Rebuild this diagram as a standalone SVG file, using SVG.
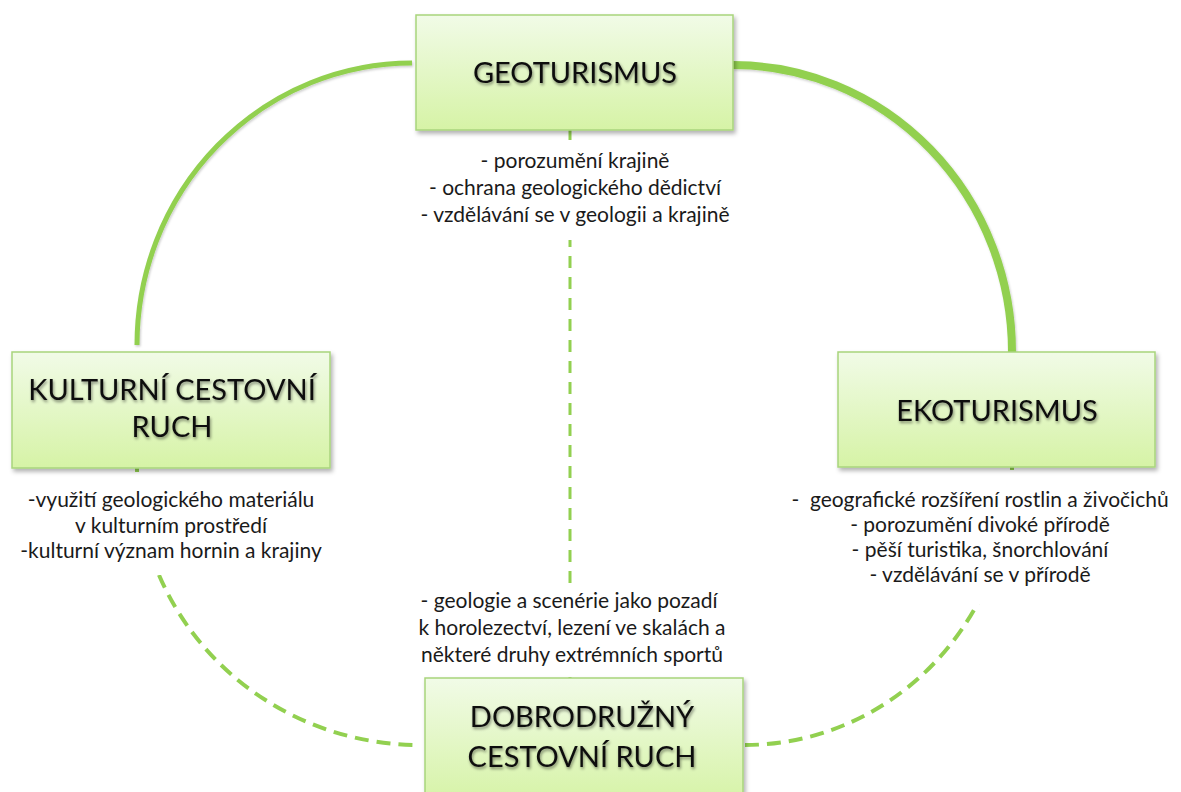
<svg xmlns="http://www.w3.org/2000/svg" width="1181" height="792" viewBox="0 0 1181 792">
<style>
  .box { fill: url(#boxGrad); stroke: #a8d57c; stroke-width: 1.5; filter: url(#boxShadow); }
  .title { font-family: Lato, "Liberation Sans", sans-serif; font-size: 29px; fill: #111; text-anchor: middle; filter: url(#textShadow); }
  .desc { font-family: Lato, "Liberation Sans", sans-serif; font-size: 21px; fill: #1a1a1a; text-anchor: middle; }
  .solid { fill: none; stroke: #92d050; stroke-linecap: butt; filter: url(#lineShadow); }
  .dash { fill: none; stroke: #92d050; stroke-width: 4; stroke-dasharray: 14 8; }
  .vdash { fill: none; stroke: #92d050; stroke-width: 3; stroke-dasharray: 12 9; }
  .mask { fill: #fff; }
</style>
<defs>
  <linearGradient id="boxGrad" x1="0" y1="0" x2="0" y2="1">
    <stop offset="0" stop-color="#f1fbe7"/>
    <stop offset="1" stop-color="#d6f3a6"/>
  </linearGradient>
  <filter id="boxShadow" x="-10%" y="-10%" width="125%" height="130%">
    <feDropShadow dx="2" dy="3" stdDeviation="2" flood-color="#000" flood-opacity="0.3"/>
  </filter>
  <filter id="textShadow" x="-10%" y="-30%" width="120%" height="170%">
    <feDropShadow dx="1" dy="2" stdDeviation="1.5" flood-color="#000" flood-opacity="0.45"/>
  </filter>
  <filter id="lineShadow" x="-10%" y="-10%" width="120%" height="120%">
    <feDropShadow dx="1" dy="1.5" stdDeviation="1.2" flood-color="#000" flood-opacity="0.2"/>
  </filter>
</defs>
<rect width="1181" height="792" fill="#fff"/>

<g id="connectors">
  <path class="solid" stroke-width="5" d="M412,63 A275,282 0 0 0 137,345"/>
  <path class="solid" stroke-width="8" d="M733,65 A279,287 0 0 1 1012,352"/>
  <path class="dash" d="M137,468 A283,277 0 0 0 420,745"/>
  <path class="dash" d="M745,745 A267,278 0 0 0 1012,467"/>
  <path class="vdash" d="M570,130 L570,678"/>
</g>

<g id="labels">
  <rect class="mask" x="405" y="140" width="335" height="100"/>
  <text class="desc" x="575" y="168">- porozumění krajině</text>
  <text class="desc" x="575" y="195">- ochrana geologického dědictví</text>
  <text class="desc" x="575" y="222">- vzdělávání se v geologii a krajině</text>

  <rect class="mask" x="14" y="472" width="330" height="103"/>
  <text class="desc" x="171" y="507">-využití geologického materiálu</text>
  <text class="desc" x="171" y="533">v kulturním prostředí</text>
  <text class="desc" x="171" y="558">-kulturní význam hornin a krajiny</text>

  <rect class="mask" x="780" y="470" width="398" height="134"/>
  <text class="desc" x="980" y="507" xml:space="preserve">-  geografické rozšíření rostlin a živočichů</text>
  <text class="desc" x="980" y="532">- porozumění divoké přírodě</text>
  <text class="desc" x="980" y="557">- pěší turistika, šnorchlování</text>
  <text class="desc" x="980" y="582">- vzdělávání se v přírodě</text>

  <rect class="mask" x="405" y="585" width="335" height="92"/>
  <text class="desc" x="569" y="608">- geologie a scenérie jako pozadí</text>
  <text class="desc" x="572" y="635">k horolezectví, lezení ve skalách a</text>
  <text class="desc" x="572" y="662">některé druhy extrémních sportů</text>
</g>

<g id="geoturismus">
  <rect class="box" x="416" y="15" width="317" height="115"/>
  <text class="title" x="575" y="83">GEOTURISMUS</text>
</g>
<g id="kulturni">
  <rect class="box" x="12" y="352" width="318" height="116"/>
  <text class="title" x="172" y="400">KULTURNÍ CESTOVNÍ</text>
  <text class="title" x="172" y="437">RUCH</text>
</g>
<g id="ekoturismus">
  <rect class="box" x="838" y="352" width="317" height="115"/>
  <text class="title" x="997" y="421">EKOTURISMUS</text>
</g>
<g id="dobrodruzny">
  <rect class="box" x="425" y="678" width="318" height="125"/>
  <text class="title" x="582" y="727">DOBRODRUŽNÝ</text>
  <text class="title" x="582" y="767">CESTOVNÍ RUCH</text>
</g>
</svg>
